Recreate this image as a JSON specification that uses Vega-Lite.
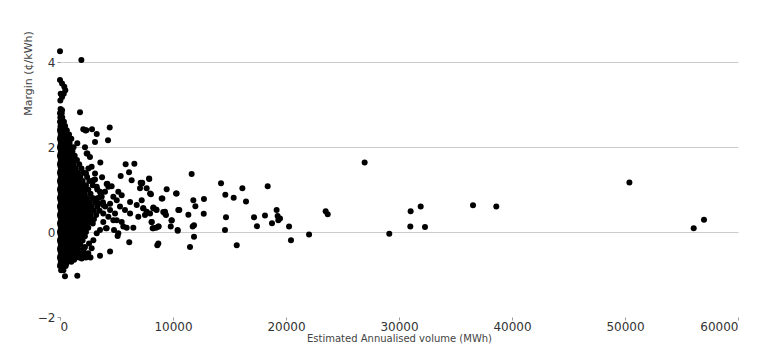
{
  "$schema": "https://vega.github.io/schema/vega-lite/v6.json",
  "width": 678,
  "height": 276,
  "autosize": {"type": "none"},
  "padding": {"left": 60, "top": 41, "right": 30, "bottom": 30},
  "background": "#ffffff",
  "config": {
    "view": {"stroke": null},
    "font": "DejaVu Sans",
    "axis": {"labelFont": "DejaVu Sans", "titleFont": "DejaVu Sans", "labelFontSize": 12, "titleFontSize": 11, "titleFontWeight": "normal", "labelColor": "#333333", "titleColor": "#444444", "tickColor": "#999999", "tickSize": 3, "domain": false}
  },
  "data": {"values": [
    {"x":0,"y":4.26},{"x":1890,"y":4.05},{"x":0,"y":3.58},{"x":180,"y":3.5},{"x":380,"y":3.42},{"x":470,"y":3.34},{"x":330,"y":3.26},{"x":60,"y":3.26},{"x":30,"y":3.1},{"x":180,"y":3.18},
    {"x":1770,"y":2.82},{"x":180,"y":2.87},{"x":2060,"y":2.42},{"x":2330,"y":2.4},{"x":2270,"y":2.39},{"x":2830,"y":2.42},{"x":3250,"y":2.31},{"x":4400,"y":2.46},{"x":4250,"y":2.16},{"x":3100,"y":2.12},{"x":2420,"y":1.85},{"x":1530,"y":2.09},
    {"x":50,"y":2.9},{"x":0,"y":2.8},{"x":150,"y":2.8},{"x":30,"y":2.7},{"x":200,"y":2.7},{"x":0,"y":2.6},{"x":120,"y":2.6},{"x":350,"y":2.6},
    {"x":50,"y":2.5},{"x":250,"y":2.5},{"x":450,"y":2.5},{"x":0,"y":2.4},{"x":150,"y":2.4},{"x":350,"y":2.4},{"x":600,"y":2.4},
    {"x":80,"y":2.3},{"x":300,"y":2.3},{"x":500,"y":2.3},{"x":800,"y":2.3},
    {"x":0,"y":2.2},{"x":200,"y":2.2},{"x":450,"y":2.2},{"x":700,"y":2.2},{"x":1000,"y":2.2},
    {"x":100,"y":2.1},{"x":300,"y":2.1},{"x":550,"y":2.1},{"x":850,"y":2.1},
    {"x":0,"y":2.0},{"x":200,"y":2.0},{"x":400,"y":2.0},{"x":650,"y":2.0},{"x":950,"y":2.0},{"x":1200,"y":2.0},
    {"x":100,"y":1.9},{"x":300,"y":1.9},{"x":500,"y":1.9},{"x":750,"y":1.9},{"x":1100,"y":1.9},
    {"x":0,"y":1.8},{"x":200,"y":1.8},{"x":450,"y":1.8},{"x":700,"y":1.8},{"x":900,"y":1.8},{"x":1300,"y":1.8},
    {"x":100,"y":1.7},{"x":300,"y":1.7},{"x":550,"y":1.7},{"x":800,"y":1.7},{"x":1050,"y":1.7},{"x":1500,"y":1.7},
    {"x":0,"y":1.6},{"x":200,"y":1.6},{"x":400,"y":1.6},{"x":650,"y":1.6},{"x":900,"y":1.6},{"x":1200,"y":1.6},{"x":1700,"y":1.6},
    {"x":100,"y":1.5},{"x":300,"y":1.5},{"x":550,"y":1.5},{"x":800,"y":1.5},{"x":1000,"y":1.5},{"x":1400,"y":1.5},{"x":1900,"y":1.5},
    {"x":0,"y":1.4},{"x":200,"y":1.4},{"x":450,"y":1.4},{"x":700,"y":1.4},{"x":950,"y":1.4},{"x":1250,"y":1.4},{"x":1600,"y":1.4},{"x":2100,"y":1.4},
    {"x":100,"y":1.3},{"x":350,"y":1.3},{"x":600,"y":1.3},{"x":850,"y":1.3},{"x":1100,"y":1.3},{"x":1450,"y":1.3},{"x":1800,"y":1.3},{"x":2400,"y":1.3},
    {"x":0,"y":1.2},{"x":250,"y":1.2},{"x":500,"y":1.2},{"x":750,"y":1.2},{"x":1000,"y":1.2},{"x":1300,"y":1.2},{"x":1700,"y":1.2},{"x":2000,"y":1.2},{"x":2600,"y":1.2},
    {"x":150,"y":1.1},{"x":400,"y":1.1},{"x":650,"y":1.1},{"x":900,"y":1.1},{"x":1150,"y":1.1},{"x":1500,"y":1.1},{"x":1900,"y":1.1},{"x":2300,"y":1.1},{"x":2900,"y":1.1},
    {"x":0,"y":1.0},{"x":250,"y":1.0},{"x":500,"y":1.0},{"x":750,"y":1.0},{"x":1000,"y":1.0},{"x":1300,"y":1.0},{"x":1650,"y":1.0},{"x":2100,"y":1.0},{"x":2500,"y":1.0},{"x":3300,"y":1.0},
    {"x":100,"y":0.9},{"x":350,"y":0.9},{"x":600,"y":0.9},{"x":850,"y":0.9},{"x":1100,"y":0.9},{"x":1450,"y":0.9},{"x":1800,"y":0.9},{"x":2200,"y":0.9},{"x":2700,"y":0.9},{"x":3600,"y":0.9},
    {"x":0,"y":0.8},{"x":250,"y":0.8},{"x":500,"y":0.8},{"x":750,"y":0.8},{"x":1000,"y":0.8},{"x":1250,"y":0.8},{"x":1600,"y":0.8},{"x":2000,"y":0.8},{"x":2400,"y":0.8},{"x":2900,"y":0.8},{"x":3400,"y":0.8},
    {"x":150,"y":0.7},{"x":400,"y":0.7},{"x":650,"y":0.7},{"x":900,"y":0.7},{"x":1150,"y":0.7},{"x":1450,"y":0.7},{"x":1800,"y":0.7},{"x":2200,"y":0.7},{"x":2600,"y":0.7},{"x":3100,"y":0.7},{"x":3800,"y":0.7},
    {"x":0,"y":0.6},{"x":250,"y":0.6},{"x":500,"y":0.6},{"x":750,"y":0.6},{"x":1000,"y":0.6},{"x":1300,"y":0.6},{"x":1650,"y":0.6},{"x":2050,"y":0.6},{"x":2450,"y":0.6},{"x":2800,"y":0.6},{"x":3300,"y":0.6},{"x":4000,"y":0.6},
    {"x":100,"y":0.5},{"x":350,"y":0.5},{"x":600,"y":0.5},{"x":850,"y":0.5},{"x":1100,"y":0.5},{"x":1400,"y":0.5},{"x":1750,"y":0.5},{"x":2100,"y":0.5},{"x":2500,"y":0.5},{"x":3000,"y":0.5},{"x":3500,"y":0.5},
    {"x":0,"y":0.4},{"x":250,"y":0.4},{"x":500,"y":0.4},{"x":750,"y":0.4},{"x":1000,"y":0.4},{"x":1250,"y":0.4},{"x":1600,"y":0.4},{"x":1950,"y":0.4},{"x":2350,"y":0.4},{"x":2700,"y":0.4},{"x":3200,"y":0.4},
    {"x":150,"y":0.3},{"x":400,"y":0.3},{"x":650,"y":0.3},{"x":900,"y":0.3},{"x":1150,"y":0.3},{"x":1450,"y":0.3},{"x":1800,"y":0.3},{"x":2200,"y":0.3},{"x":2600,"y":0.3},{"x":3000,"y":0.3},
    {"x":0,"y":0.2},{"x":250,"y":0.2},{"x":500,"y":0.2},{"x":750,"y":0.2},{"x":1000,"y":0.2},{"x":1300,"y":0.2},{"x":1650,"y":0.2},{"x":2000,"y":0.2},{"x":2400,"y":0.2},{"x":2900,"y":0.2},
    {"x":100,"y":0.1},{"x":350,"y":0.1},{"x":600,"y":0.1},{"x":850,"y":0.1},{"x":1100,"y":0.1},{"x":1400,"y":0.1},{"x":1750,"y":0.1},{"x":2150,"y":0.1},{"x":2500,"y":0.1},
    {"x":0,"y":0.0},{"x":250,"y":0.0},{"x":500,"y":0.0},{"x":750,"y":0.0},{"x":1000,"y":0.0},{"x":1250,"y":0.0},{"x":1600,"y":0.0},{"x":1950,"y":0.0},{"x":2300,"y":0.0},
    {"x":150,"y":-0.1},{"x":400,"y":-0.1},{"x":650,"y":-0.1},{"x":900,"y":-0.1},{"x":1150,"y":-0.1},{"x":1450,"y":-0.1},{"x":1800,"y":-0.1},{"x":2200,"y":-0.1},
    {"x":0,"y":-0.2},{"x":250,"y":-0.2},{"x":500,"y":-0.2},{"x":750,"y":-0.2},{"x":1000,"y":-0.2},{"x":1300,"y":-0.2},{"x":1650,"y":-0.2},{"x":2000,"y":-0.2},
    {"x":100,"y":-0.3},{"x":350,"y":-0.3},{"x":600,"y":-0.3},{"x":850,"y":-0.3},{"x":1100,"y":-0.3},{"x":1400,"y":-0.3},{"x":1800,"y":-0.3},
    {"x":0,"y":-0.4},{"x":250,"y":-0.4},{"x":500,"y":-0.4},{"x":750,"y":-0.4},{"x":1000,"y":-0.4},{"x":1250,"y":-0.4},{"x":1600,"y":-0.4},{"x":2100,"y":-0.4},
    {"x":150,"y":-0.5},{"x":400,"y":-0.5},{"x":650,"y":-0.5},{"x":900,"y":-0.5},{"x":1200,"y":-0.5},{"x":1500,"y":-0.5},{"x":1800,"y":-0.5},{"x":2100,"y":-0.5},{"x":2500,"y":-0.5},
    {"x":0,"y":-0.6},{"x":250,"y":-0.6},{"x":500,"y":-0.6},{"x":800,"y":-0.6},{"x":1100,"y":-0.6},{"x":1400,"y":-0.6},{"x":1700,"y":-0.6},{"x":2000,"y":-0.6},{"x":2300,"y":-0.6},{"x":2700,"y":-0.6},
    {"x":100,"y":-0.7},{"x":350,"y":-0.7},{"x":650,"y":-0.7},{"x":1000,"y":-0.7},
    {"x":0,"y":-0.8},{"x":250,"y":-0.8},{"x":500,"y":-0.8},{"x":100,"y":-0.9},{"x":300,"y":-0.9},
    {"x":50,"y":2.45},{"x":300,"y":2.45},{"x":50,"y":2.35},{"x":300,"y":2.35},{"x":550,"y":2.35},
    {"x":50,"y":2.25},{"x":300,"y":2.25},{"x":550,"y":2.25},{"x":50,"y":2.15},{"x":300,"y":2.15},{"x":550,"y":2.15},{"x":800,"y":2.15},
    {"x":50,"y":2.05},{"x":300,"y":2.05},{"x":550,"y":2.05},{"x":800,"y":2.05},{"x":50,"y":1.95},{"x":300,"y":1.95},{"x":550,"y":1.95},{"x":800,"y":1.95},
    {"x":50,"y":1.85},{"x":300,"y":1.85},{"x":550,"y":1.85},{"x":800,"y":1.85},{"x":1050,"y":1.85},{"x":50,"y":1.75},{"x":300,"y":1.75},{"x":550,"y":1.75},{"x":800,"y":1.75},{"x":1150,"y":1.75},
    {"x":50,"y":1.65},{"x":300,"y":1.65},{"x":550,"y":1.65},{"x":800,"y":1.65},{"x":1050,"y":1.65},{"x":50,"y":1.55},{"x":300,"y":1.55},{"x":550,"y":1.55},{"x":800,"y":1.55},{"x":1150,"y":1.55},
    {"x":50,"y":1.45},{"x":300,"y":1.45},{"x":550,"y":1.45},{"x":800,"y":1.45},{"x":1100,"y":1.45},{"x":50,"y":1.35},{"x":300,"y":1.35},{"x":550,"y":1.35},{"x":800,"y":1.35},{"x":1250,"y":1.35},
    {"x":50,"y":1.25},{"x":300,"y":1.25},{"x":550,"y":1.25},{"x":800,"y":1.25},{"x":1150,"y":1.25},{"x":1550,"y":1.25},{"x":50,"y":1.15},{"x":300,"y":1.15},{"x":550,"y":1.15},{"x":800,"y":1.15},{"x":1300,"y":1.15},{"x":1700,"y":1.15},
    {"x":50,"y":1.05},{"x":300,"y":1.05},{"x":550,"y":1.05},{"x":800,"y":1.05},{"x":1150,"y":1.05},{"x":1500,"y":1.05},{"x":1900,"y":1.05},{"x":50,"y":0.95},{"x":300,"y":0.95},{"x":550,"y":0.95},{"x":800,"y":0.95},{"x":1250,"y":0.95},{"x":1650,"y":0.95},{"x":2000,"y":0.95},
    {"x":50,"y":0.85},{"x":300,"y":0.85},{"x":550,"y":0.85},{"x":800,"y":0.85},{"x":1150,"y":0.85},{"x":1400,"y":0.85},{"x":1800,"y":0.85},{"x":50,"y":0.75},{"x":300,"y":0.75},{"x":550,"y":0.75},{"x":800,"y":0.75},{"x":1300,"y":0.75},{"x":1650,"y":0.75},{"x":2050,"y":0.75},
    {"x":50,"y":0.65},{"x":300,"y":0.65},{"x":550,"y":0.65},{"x":800,"y":0.65},{"x":1150,"y":0.65},{"x":1500,"y":0.65},{"x":1850,"y":0.65},{"x":50,"y":0.55},{"x":300,"y":0.55},{"x":550,"y":0.55},{"x":800,"y":0.55},{"x":1250,"y":0.55},{"x":1600,"y":0.55},{"x":1950,"y":0.55},
    {"x":50,"y":0.45},{"x":300,"y":0.45},{"x":550,"y":0.45},{"x":800,"y":0.45},{"x":1150,"y":0.45},{"x":1450,"y":0.45},{"x":1800,"y":0.45},{"x":50,"y":0.35},{"x":300,"y":0.35},{"x":550,"y":0.35},{"x":800,"y":0.35},{"x":1300,"y":0.35},{"x":1650,"y":0.35},
    {"x":50,"y":0.25},{"x":300,"y":0.25},{"x":550,"y":0.25},{"x":800,"y":0.25},{"x":1150,"y":0.25},{"x":1500,"y":0.25},{"x":1850,"y":0.25},{"x":50,"y":0.15},{"x":300,"y":0.15},{"x":550,"y":0.15},{"x":800,"y":0.15},{"x":1250,"y":0.15},{"x":1600,"y":0.15},
    {"x":50,"y":0.05},{"x":300,"y":0.05},{"x":550,"y":0.05},{"x":800,"y":0.05},{"x":1150,"y":0.05},{"x":1450,"y":0.05},{"x":50,"y":-0.05},{"x":300,"y":-0.05},{"x":550,"y":-0.05},{"x":800,"y":-0.05},{"x":1300,"y":-0.05},
    {"x":50,"y":-0.15},{"x":300,"y":-0.15},{"x":550,"y":-0.15},{"x":800,"y":-0.15},{"x":1150,"y":-0.15},{"x":50,"y":-0.25},{"x":300,"y":-0.25},{"x":550,"y":-0.25},{"x":800,"y":-0.25},{"x":1200,"y":-0.25},
    {"x":50,"y":-0.35},{"x":300,"y":-0.35},{"x":550,"y":-0.35},{"x":800,"y":-0.35},{"x":50,"y":-0.45},{"x":300,"y":-0.45},{"x":550,"y":-0.45},{"x":800,"y":-0.45},{"x":1350,"y":-0.45},
    {"x":50,"y":-0.55},{"x":300,"y":-0.55},{"x":550,"y":-0.55},{"x":800,"y":-0.55},{"x":1250,"y":-0.55},{"x":1550,"y":-0.58},{"x":50,"y":-0.65},{"x":300,"y":-0.65},{"x":550,"y":-0.65},{"x":800,"y":-0.65},{"x":1250,"y":-0.65},
    {"x":50,"y":-0.75},{"x":300,"y":-0.75},{"x":550,"y":-0.75},
    {"x":440,"y":-1.04},{"x":1530,"y":-1.03},
    {"x":3570,"y":1.64},{"x":5810,"y":1.6},{"x":6580,"y":1.61},{"x":6110,"y":1.41},{"x":5370,"y":1.32},{"x":6340,"y":1.22},{"x":7140,"y":1.16},{"x":3720,"y":1.29},{"x":4130,"y":1.13},{"x":4570,"y":1.08},{"x":3100,"y":1.24},
    {"x":3540,"y":-0.56},{"x":4430,"y":-0.46},{"x":6130,"y":-0.24},{"x":2800,"y":-0.38},{"x":5100,"y":-0.09},{"x":4070,"y":0.09},{"x":4780,"y":0.05},{"x":5600,"y":0.13},{"x":6490,"y":0.1},{"x":5900,"y":0.1},{"x":7080,"y":1.03},
    {"x":7230,"y":1.14},{"x":7880,"y":1.26},{"x":7970,"y":0.91},{"x":9000,"y":0.79},{"x":9440,"y":1.01},{"x":10270,"y":0.91},{"x":4190,"y":1.14},
    {"x":6200,"y":0.71},{"x":5460,"y":0.87},{"x":5020,"y":0.75},{"x":4430,"y":0.67},{"x":6790,"y":0.64},{"x":7370,"y":0.56},{"x":7970,"y":0.44},{"x":8260,"y":0.56},{"x":8550,"y":0.52},{"x":9290,"y":0.44},{"x":9880,"y":0.28},{"x":10470,"y":0.52},{"x":8110,"y":0.24},{"x":8260,"y":0.09},{"x":8700,"y":0.13},{"x":10410,"y":0.05},
    {"x":5160,"y":-0.03},{"x":6200,"y":0.44},{"x":5750,"y":0.52},{"x":4870,"y":0.44},{"x":4280,"y":0.36},{"x":3830,"y":0.24},{"x":4720,"y":0.28},{"x":4130,"y":0.09},{"x":3540,"y":0.05},{"x":3250,"y":-0.03},{"x":2950,"y":-0.19},
    {"x":4280,"y":1.07},{"x":3980,"y":0.95},{"x":3690,"y":0.83},{"x":3390,"y":0.67},{"x":3830,"y":0.64},{"x":5160,"y":0.95},{"x":4720,"y":0.83},{"x":5310,"y":0.6},{"x":6930,"y":0.36},{"x":7230,"y":0.75},{"x":7670,"y":1.03},
    {"x":2800,"y":1.54},{"x":3100,"y":1.38},{"x":2950,"y":1.22},{"x":2650,"y":1.77},{"x":2360,"y":1.85},{"x":2210,"y":2.0},{"x":2510,"y":1.5},{"x":2300,"y":1.38},{"x":3250,"y":1.07},{"x":3540,"y":0.95},{"x":3250,"y":0.79},{"x":3830,"y":0.44},{"x":4430,"y":0.52},{"x":5020,"y":0.28},{"x":5460,"y":0.24},{"x":2650,"y":0.28},
    {"x":2360,"y":-0.58},{"x":1770,"y":-0.54},{"x":1920,"y":-0.62},{"x":2570,"y":-0.27},{"x":2210,"y":-0.35},
    {"x":11650,"y":1.37},{"x":14250,"y":1.15},{"x":14630,"y":0.88},{"x":15370,"y":0.81},{"x":16140,"y":1.03},{"x":16460,"y":0.72},{"x":18380,"y":1.08},{"x":14690,"y":0.35},{"x":14600,"y":0.05},{"x":15640,"y":-0.31},{"x":17170,"y":0.35},{"x":17430,"y":0.14},{"x":18140,"y":0.39},{"x":18760,"y":0.21},{"x":19170,"y":0.52},{"x":19260,"y":0.38},{"x":19320,"y":0.28},{"x":20270,"y":0.13},{"x":20440,"y":-0.19},
    {"x":11800,"y":0.75},{"x":11980,"y":0.61},{"x":12740,"y":0.78},{"x":12720,"y":0.43},{"x":11360,"y":0.41},{"x":11860,"y":0.16},{"x":11740,"y":0.13},{"x":11860,"y":-0.11},{"x":11505,"y":-0.35},{"x":10560,"y":0.52},{"x":10320,"y":0.91},{"x":10420,"y":0.03},{"x":9880,"y":0.27},{"x":9800,"y":0.13},{"x":9060,"y":0.79},{"x":9290,"y":0.48},{"x":9380,"y":0.4},{"x":8730,"y":0.13},{"x":8500,"y":0.1},{"x":8200,"y":0.09},{"x":8700,"y":-0.27},{"x":8610,"y":-0.31},{"x":8050,"y":0.89},{"x":7900,"y":1.25},{"x":7280,"y":1.16},{"x":8260,"y":0.58},{"x":8500,"y":0.53},{"x":7370,"y":0.56},{"x":7670,"y":0.48},{"x":7520,"y":0.4},{"x":9140,"y":0.47},{"x":8110,"y":0.24},
    {"x":26960,"y":1.64},{"x":19470,"y":0.32},{"x":22040,"y":-0.06},{"x":23510,"y":0.49},{"x":23690,"y":0.42},{"x":29140,"y":-0.04},{"x":31030,"y":0.49},{"x":31000,"y":0.13},{"x":31920,"y":0.6},{"x":32300,"y":0.12},{"x":36550,"y":0.63},{"x":38610,"y":0.6},{"x":50390,"y":1.17},{"x":56080,"y":0.09},{"x":56990,"y":0.29}
  ]},
  "mark": {"type": "circle", "size": 36, "color": "#000000", "opacity": 1},
  "encoding": {
    "x": {"field": "x", "type": "quantitative", "title": "Estimated Annualised volume (MWh)",
      "scale": {"domain": [0, 60000], "nice": false, "zero": false},
      "axis": {"values": [0, 10000, 20000, 30000, 40000, 50000, 60000], "format": "d", "grid": false, "labelPadding": 1, "titlePadding": 1, "titleFontSize": 10}},
    "y": {"field": "y", "type": "quantitative", "title": "Margin (¢/kWh)",
      "scale": {"domain": [-2, 4.5], "nice": false, "zero": false},
      "axis": {"values": [-2, 0, 2, 4], "grid": true, "gridColor": {"condition": {"test": "datum.value == -2", "value": "transparent"}, "value": "#cccccc"}, "labelPadding": 2, "titleX": -32, "titleY": 32, "titleAlign": "center", "titleBaseline": "middle"}}
  }
}
